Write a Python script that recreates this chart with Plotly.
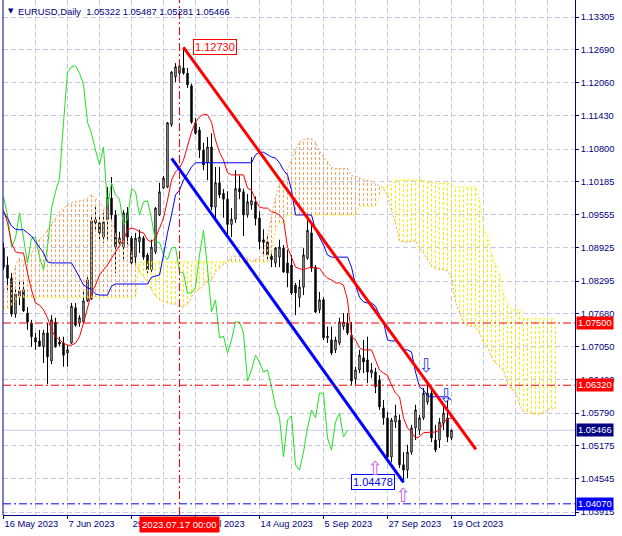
import plotly.graph_objects as go

# ---------------- data ----------------
open_ = [1.0892, 1.0860, 1.0835, 1.0767, 1.0801, 1.0813, 1.0769, 1.0750, 1.0722, 1.0716,
         1.0705, 1.0731, 1.0678, 1.0752, 1.0714, 1.0712, 1.0693, 1.0712, 1.0779, 1.0750,
         1.0752, 1.0792, 1.0796, 1.0946, 1.0940, 1.0913, 1.0946, 1.0987, 1.0955, 1.0902,
         1.0894, 1.0959, 1.0911, 1.0875, 1.0904, 1.0911, 1.0879, 1.0851, 1.0885, 1.0955,
         1.1006, 1.1008, 1.1126, 1.1217, 1.1224, 1.1234, 1.1224, 1.1200, 1.1130, 1.1116,
         1.1078, 1.1054, 1.1084, 1.0970, 1.1016, 1.0996, 1.0985, 1.0937, 1.0947, 1.1005,
         1.0999, 1.0955, 1.0974, 1.0980, 1.0949, 1.0908, 1.0904, 1.0877, 1.0864, 1.0875,
         1.0892, 1.0864, 1.0860, 1.0822, 1.0798, 1.0818, 1.0873, 1.0921, 1.0856, 1.0775,
         1.0794, 1.0722, 1.0718, 1.0699, 1.0712, 1.0743, 1.0750, 1.0727, 1.0644, 1.0661,
         1.0684, 1.0680, 1.0655, 1.0657, 1.0642, 1.0589, 1.0570, 1.0496, 1.0562, 1.0566,
         1.0481, 1.0471, 1.0505, 1.0551, 1.0547, 1.0570, 1.0600, 1.0617, 1.0528, 1.0528,
         1.0560, 1.0570, 1.05322]
high = [1.0902, 1.0876, 1.0845, 1.0819, 1.0830, 1.0828, 1.0780, 1.0756, 1.0731, 1.0737,
        1.0737, 1.0750, 1.0765, 1.0760, 1.0724, 1.0724, 1.0708, 1.0788, 1.0788, 1.0765,
        1.0813, 1.0837, 1.0951, 1.0970, 1.0951, 1.0959, 1.1008, 1.1027, 1.0964, 1.0923,
        1.0964, 1.0970, 1.0915, 1.0921, 1.0927, 1.0915, 1.0883, 1.0908, 1.0970, 1.1016,
        1.1029, 1.1131, 1.1228, 1.1243, 1.1245, 1.12730, 1.1234, 1.1204, 1.1139, 1.1122,
        1.1092, 1.1103, 1.1110, 1.1046, 1.1046, 1.1004, 1.1000, 1.0968, 1.1040, 1.1030,
        1.1005, 1.0995, 1.1065, 1.0990, 1.0962, 1.0928, 1.0915, 1.0885, 1.0894, 1.0908,
        1.0898, 1.0889, 1.0879, 1.0826, 1.0832, 1.0892, 1.0945, 1.0940, 1.0860, 1.0809,
        1.0799, 1.0743, 1.0743, 1.0724, 1.0760, 1.0769, 1.0769, 1.0752, 1.0667, 1.0699,
        1.0718, 1.0724, 1.0674, 1.0665, 1.0651, 1.0604, 1.0581, 1.0570, 1.0595, 1.0576,
        1.0505, 1.0519, 1.0557, 1.0595, 1.0576, 1.0627, 1.0636, 1.0629, 1.0557, 1.0570,
        1.0595, 1.0604, 1.05487]
low = [1.0851, 1.0813, 1.0762, 1.0760, 1.0784, 1.0771, 1.0737, 1.0705, 1.0699, 1.0705,
       1.0674, 1.0634, 1.0672, 1.0703, 1.0706, 1.0667, 1.0667, 1.0710, 1.0743, 1.0743,
       1.0750, 1.0790, 1.0794, 1.0925, 1.0908, 1.0902, 1.0908, 1.0946, 1.0845, 1.0894,
       1.0870, 1.0894, 1.0856, 1.0856, 1.0883, 1.0870, 1.0845, 1.0847, 1.0881, 1.0953,
       1.1004, 1.1006, 1.1122, 1.1207, 1.1215, 1.1221, 1.1196, 1.1128, 1.1107, 1.1063,
       1.1040, 1.1021, 1.0964, 1.0946, 1.0987, 1.0950, 1.0913, 1.0913, 1.0940, 1.0985,
       1.0915, 1.0950, 1.0965, 1.0935, 1.0890, 1.0877, 1.0870, 1.0856, 1.0856, 1.0856,
       1.0845, 1.0818, 1.0803, 1.0765, 1.0780, 1.0803, 1.0870, 1.0847, 1.0769, 1.0769,
       1.0718, 1.0712, 1.0689, 1.0693, 1.0708, 1.0737, 1.0727, 1.0632, 1.0633, 1.0655,
       1.0655, 1.0636, 1.0646, 1.0617, 1.0585, 1.0557, 1.0486, 1.0486, 1.0551, 1.0475,
       1.04478, 1.0456, 1.0500, 1.0528, 1.0538, 1.0566, 1.0595, 1.0524, 1.0505, 1.0513,
       1.0547, 1.0524, 1.05281]
close = [1.0856, 1.0835, 1.0767, 1.0805, 1.0811, 1.0773, 1.0752, 1.0724, 1.0714, 1.0706,
         1.0731, 1.0686, 1.0756, 1.0705, 1.0710, 1.0689, 1.0699, 1.0782, 1.0746, 1.0760,
         1.0792, 1.0832, 1.0944, 1.0940, 1.0921, 1.0942, 1.0989, 1.0955, 1.0894, 1.0911,
         1.0959, 1.0913, 1.0864, 1.0911, 1.0913, 1.0875, 1.0851, 1.0894, 1.0968, 1.0999,
         1.1025, 1.1130, 1.1226, 1.1236, 1.1238, 1.1224, 1.1202, 1.1131, 1.1110, 1.1078,
         1.1050, 1.1084, 1.0970, 1.1016, 1.0993, 1.0985, 1.0937, 1.0947, 1.1005, 1.0999,
         1.0955, 1.0980, 1.0982, 1.0948, 1.0904, 1.0903, 1.0879, 1.0870, 1.0892, 1.0894,
         1.0847, 1.0845, 1.0807, 1.0807, 1.0818, 1.0879, 1.0926, 1.0854, 1.0771, 1.0794,
         1.0722, 1.0725, 1.0693, 1.0718, 1.0752, 1.0752, 1.0731, 1.0640, 1.0661, 1.0689,
         1.0676, 1.0657, 1.0661, 1.0629, 1.0591, 1.0570, 1.0496, 1.0566, 1.0574, 1.0481,
         1.0471, 1.0505, 1.0551, 1.0585, 1.0570, 1.0617, 1.0617, 1.0532, 1.0509, 1.0562,
         1.0579, 1.0534, 1.05466]
bars = list(range(len(close)))

tenkan = [1.0964, 1.0940, 1.0902, 1.0885, 1.0883, 1.0883, 1.0845, 1.0813, 1.0788, 1.0784,
          1.0775, 1.0760, 1.0737, 1.0724, 1.0718, 1.0712, 1.0708, 1.0708, 1.0712, 1.0724,
          1.0750, 1.0780, 1.0807, 1.0822, 1.0841, 1.0851, 1.0860, 1.0873, 1.0885, 1.0898,
          1.0908, 1.0927, 1.0930, 1.0928, 1.0923, 1.0921, 1.0908, 1.0904, 1.0911, 1.0930,
          1.0949, 1.0983, 1.1021, 1.1037, 1.1044, 1.1059, 1.1084, 1.1112, 1.1131, 1.1141,
          1.1146, 1.1145, 1.1131, 1.1097, 1.1074, 1.1059, 1.1035, 1.1031, 1.1031, 1.1031,
          1.1031, 1.1006, 1.1002, 1.0983, 1.0970, 1.0968, 1.0968, 1.0961, 1.0959, 1.0955,
          1.0946, 1.0894, 1.0875, 1.0856, 1.0853, 1.0851, 1.0854, 1.0856, 1.0854, 1.0854,
          1.0843, 1.0835, 1.0832, 1.0826, 1.0826, 1.0822, 1.0794, 1.0724, 1.0718, 1.0703,
          1.0699, 1.0699, 1.0699, 1.0680, 1.0661, 1.0655, 1.0651, 1.0632, 1.0617, 1.0610,
          1.0570, 1.0551, 1.0543, 1.0532, 1.0534, 1.0542, 1.0543, 1.0543, 1.0543, 1.0547,
          1.0562, 1.0568, 1.0570]
kijun = [1.0961, 1.0949, 1.0934, 1.0928, 1.0927, 1.0927, 1.0921, 1.0915, 1.0904, 1.0894,
         1.0883, 1.0866, 1.0864, 1.0864, 1.0864, 1.0864, 1.0864, 1.0864, 1.0851, 1.0835,
         1.0822, 1.0818, 1.0813, 1.0805, 1.0803, 1.0803, 1.0803, 1.0820, 1.0824, 1.0824,
         1.0824, 1.0824, 1.0824, 1.0824, 1.0824, 1.0824, 1.0824, 1.0837, 1.0839, 1.0841,
         1.0879, 1.0921, 1.0955, 1.0993, 1.1002, 1.1021, 1.1033, 1.1046, 1.1054, 1.1054,
         1.1054, 1.1054, 1.1054, 1.1054, 1.1054, 1.1054, 1.1054, 1.1054, 1.1054, 1.1054,
         1.1054, 1.1054, 1.1054, 1.1069, 1.1074, 1.1074, 1.1069, 1.1065, 1.1063, 1.1054,
         1.1040, 1.1031, 1.1002, 1.0955, 1.0955, 1.0955, 1.0955, 1.0955, 1.0927, 1.0913,
         1.0898, 1.0879, 1.0875, 1.0875, 1.0875, 1.0875, 1.0875, 1.0856, 1.0822, 1.0799,
         1.0790, 1.0788, 1.0788, 1.0782, 1.0765, 1.0752, 1.0718, 1.0716, 1.0716, 1.0710,
         1.0699, 1.0699, 1.0695, 1.0657, 1.0629, 1.0623, 1.0612, 1.0610, 1.0610, 1.0610,
         1.0610, 1.0610, 1.0604]
span_a = [1.0813, 1.0822, 1.0824, 1.0860, 1.0873, 1.0866, 1.0873, 1.0881, 1.0898, 1.0909,
          1.0915, 1.0927, 1.0938, 1.0949, 1.0961, 1.0968, 1.0974, 1.0978, 1.0980, 1.0982,
          1.0983, 1.0987, 1.0993, 1.0987, 1.0980, 1.0970,
          1.0963, 1.0945, 1.0918, 1.0907, 1.0905, 1.0905, 1.0883, 1.0864, 1.0846, 1.0839,
          1.0829, 1.0813, 1.0801, 1.0794, 1.0791, 1.0788, 1.0786, 1.0786, 1.0782, 1.0780,
          1.0786, 1.0799, 1.0810, 1.0814, 1.0822, 1.0827, 1.0832, 1.0847, 1.0855, 1.0861,
          1.0866, 1.0876, 1.0877, 1.0876, 1.0874, 1.0873, 1.0866, 1.0871, 1.0875, 1.0886,
          1.0914, 1.0952, 1.0988, 1.1015, 1.1023, 1.1040, 1.1059, 1.1079, 1.1093, 1.1098,
          1.1100, 1.1100, 1.1093, 1.1076, 1.1064, 1.1057, 1.1045, 1.1043, 1.1043, 1.1043,
          1.1043, 1.1030, 1.1028, 1.1026, 1.1022, 1.1021, 1.1019, 1.1013, 1.1011, 1.1005,
          1.0993, 1.0963, 1.0939, 1.0906, 1.0904, 1.0903, 1.0905, 1.0906, 1.0891, 1.0884,
          1.0871, 1.0857, 1.0854, 1.0851, 1.0851, 1.0849, 1.0835, 1.0790, 1.0770, 1.0751,
          1.0745, 1.0744, 1.0744, 1.0731, 1.0713, 1.0704, 1.0685, 1.0674, 1.0667, 1.0660,
          1.0635, 1.0625, 1.0619, 1.0595, 1.0582, 1.0583, 1.0578, 1.0577, 1.0577, 1.0579,
          1.0586, 1.0589, 1.0587]
span_b = [1.0778, 1.0778, 1.0784, 1.0794,
          1.0799, 1.0799, 1.0799, 1.0799, 1.0799, 1.0799, 1.0799, 1.0799, 1.0799, 1.0799,
          1.0799, 1.0799, 1.0799, 1.0799, 1.0799, 1.0799, 1.0799, 1.0799, 1.0799, 1.0799,
          1.0799, 1.0799, 1.0799, 1.0799, 1.0799, 1.0799, 1.0799, 1.0799, 1.0799, 1.0799,
          1.0866, 1.0866, 1.0866, 1.0866, 1.0866, 1.0866, 1.0866, 1.0866, 1.0866, 1.0866,
          1.0866, 1.0866, 1.0866, 1.0866, 1.0866, 1.0866, 1.0866, 1.0866, 1.0866, 1.0866,
          1.0866, 1.0866, 1.0866, 1.0866, 1.0866, 1.0866, 1.0866, 1.0866, 1.0866, 1.0866,
          1.0866, 1.0866, 1.0866,
          1.0883, 1.0930, 1.0940, 1.0940,
          1.0955, 1.0955, 1.0955, 1.0955, 1.0955, 1.0955, 1.0955, 1.0955, 1.0955, 1.0955,
          1.0955, 1.0955, 1.0955, 1.0955, 1.0955, 1.0955, 1.0955, 1.0955,
          1.0972, 1.0972, 1.0972, 1.0972, 1.0972,
          1.0993, 1.1008, 1.1008, 1.1012, 1.1021,
          1.1021, 1.1021, 1.1021, 1.1021, 1.1021, 1.1021, 1.1021,
          1.1017, 1.1017, 1.1015, 1.1015, 1.1015, 1.1015, 1.1015,
          1.1008, 1.1008, 1.1008, 1.1008, 1.1008, 1.1008,
          1.0985, 1.0930, 1.0915, 1.0881, 1.0860, 1.0845, 1.0807, 1.0786,
          1.0775, 1.0775, 1.0775,
          1.0758, 1.0758, 1.0758, 1.0758, 1.0758, 1.0758, 1.0758, 1.0758, 1.0758]
cloud_bars = list(range(len(span_a)))
chikou_shift = 26

date_ticks = [0, 16, 32, 48, 64, 80, 96, 112]
date_labels = ["16 May 2023", "7 Jun 2023", "29 Jun 2023", "21 Jul 2023",
               "14 Aug 2023", "5 Sep 2023", "27 Sep 2023", "19 Oct 2023"]
date_minor = [8, 24, 40, 56, 72, 88, 104, 120, 128, 136]
price_ticks = [1.13305, 1.12690, 1.12060, 1.11430, 1.10800, 1.10185, 1.09555, 1.08925,
               1.08295, 1.07680, 1.07050, 1.06420, 1.05790, 1.05175, 1.04545, 1.03915]
price_labels = ["1.13305", "1.12690", "1.12060", "1.11430", "1.10800", "1.10185", "1.09555",
                "1.08925", "1.08295", "1.07680", "1.07050", "1.06420", "1.05790", "1.05175",
                "1.04545", "1.03915"]

red_levels = [1.07500, 1.06320]
blue_levels = [1.04070]
bid_price = 1.05466
header = "EURUSD,Daily  1.05322 1.05487 1.05281 1.05466"
trend_red_x = [45, 118.1]
trend_red_y = [1.12730, 1.05101]
trend_blue_x = [42.05, 100]
trend_blue_y = [1.10625, 1.04478]
cursor_bar = 44
cursor_label = "2023.07.17 00:00"
up_arrow_x = [92.9, 99.9]
up_arrow_y = [1.0475, 1.0424]
down_arrow_x = [105.6, 110.6]
down_arrow_y = [1.0670, 1.0614]
high_label = 1.12730
low_label = 1.04478

# ---------------- styling ----------------
NAVY = "#000080"
GRID = "#C8C8E4"
FONT = "Liberation Sans, Arial, sans-serif"
ORANGE = "#F4A460"
YELLOW = "#F2F200"

fig = go.Figure()

# cloud hatch
ox, oy, yx, yy = [], [], [], []
for j, a, b in zip(cloud_bars, span_a, span_b):
    if a >= b:
        ox += [j, j, None]; oy += [b, a, None]
    else:
        yx += [j, j, None]; yy += [a, b, None]
fig.add_trace(go.Scatter(x=ox, y=oy, mode="lines", line=dict(color=ORANGE, width=1, dash="3px,2px"),
                         hoverinfo="skip", showlegend=False))
fig.add_trace(go.Scatter(x=yx, y=yy, mode="lines", line=dict(color=YELLOW, width=1, dash="3px,2px"),
                         hoverinfo="skip", showlegend=False))
fig.add_trace(go.Scatter(x=cloud_bars, y=span_a, mode="lines", line=dict(color=ORANGE, width=1, dash="2px,2px"),
                         hoverinfo="skip", showlegend=False))
fig.add_trace(go.Scatter(x=cloud_bars, y=span_b, mode="lines", line=dict(color=YELLOW, width=1, dash="2px,2px"),
                         hoverinfo="skip", showlegend=False))

# chikou span
fig.add_trace(go.Scatter(x=[b - chikou_shift for b in bars[chikou_shift:]], y=close[chikou_shift:],
                         mode="lines", line=dict(color="#22E022", width=1), hoverinfo="skip", showlegend=False))

# candles
fig.add_trace(go.Candlestick(x=bars, open=open_, high=high, low=low, close=close,
                             increasing=dict(line=dict(color="black", width=1), fillcolor="white"),
                             decreasing=dict(line=dict(color="black", width=1), fillcolor="black"),
                             whiskerwidth=0, hoverinfo="skip", showlegend=False))

# tenkan / kijun
fig.add_trace(go.Scatter(x=bars, y=tenkan, mode="lines", line=dict(color="#FF0000", width=1),
                         hoverinfo="skip", showlegend=False))
fig.add_trace(go.Scatter(x=bars, y=kijun, mode="lines", line=dict(color="#0000FF", width=1),
                         hoverinfo="skip", showlegend=False))

# trend lines
fig.add_trace(go.Scatter(x=trend_red_x, y=trend_red_y, mode="lines", line=dict(color="#FF0000", width=3),
                         hoverinfo="skip", showlegend=False))
fig.add_trace(go.Scatter(x=trend_blue_x, y=trend_blue_y, mode="lines", line=dict(color="#0000FF", width=3),
                         hoverinfo="skip", showlegend=False))

shapes = []
shapes.append(dict(type="line", xref="paper", x0=0, x1=1, yref="y", y0=bid_price, y1=bid_price,
                   line=dict(color="#C8C8E8", width=1), layer="below"))
for lv in red_levels:
    shapes.append(dict(type="line", xref="paper", x0=0, x1=1, yref="y", y0=lv, y1=lv,
                       line=dict(color="#FF0000", width=1, dash="8px,3px,2px,3px")))
for lv in blue_levels:
    shapes.append(dict(type="line", xref="paper", x0=0, x1=1, yref="y", y0=lv, y1=lv,
                       line=dict(color="#0000FF", width=1, dash="8px,3px,2px,3px")))
shapes.append(dict(type="line", xref="x", x0=cursor_bar, x1=cursor_bar, yref="paper", y0=0, y1=1,
                   line=dict(color="#FF0000", width=1, dash="8px,3px,2px,3px")))
shapes.append(dict(type="line", xref="paper", x0=0, x1=0, yref="paper", y0=0, y1=1,
                   line=dict(color=NAVY, width=1)))

ann = []
ann.append(dict(xref="paper", yref="paper", x=0, y=1, xanchor="left", yanchor="middle",
                xshift=3, yshift=-11, text="▼", showarrow=False,
                font=dict(family="DejaVu Sans", size=7, color=NAVY)))
ann.append(dict(xref="paper", yref="paper", x=0, y=1, xanchor="left", yanchor="middle",
                xshift=13, yshift=-11, text=header, showarrow=False,
                font=dict(family=FONT, size=9.4, color=NAVY)))
for lv in red_levels:
    ann.append(dict(xref="paper", yref="y", x=1, y=lv, xanchor="left", yanchor="middle", xshift=1,
                    text=f"{lv:.5f}", showarrow=False, bgcolor="#FF0000", borderpad=1,
                    font=dict(family=FONT, size=9.3, color="white")))
for lv in blue_levels:
    ann.append(dict(xref="paper", yref="y", x=1, y=lv, xanchor="left", yanchor="middle", xshift=1,
                    text=f"{lv:.5f}", showarrow=False, bgcolor="#0000FF", borderpad=1,
                    font=dict(family=FONT, size=9.3, color="white")))
ann.append(dict(xref="paper", yref="y", x=1, y=bid_price, xanchor="left", yanchor="middle", xshift=1,
                text=f"{bid_price:.5f}", showarrow=False, bgcolor=NAVY, borderpad=1,
                font=dict(family=FONT, size=9.3, color="white")))
ann.append(dict(xref="x", yref="paper", x=cursor_bar, y=0, xanchor="center", yanchor="top", yshift=-1,
                text=cursor_label, showarrow=False, bgcolor="#FF0000", borderpad=2,
                font=dict(family=FONT, size=9.6, color="white")))
ann.append(dict(xref="x", yref="y", x=45, y=high_label, xanchor="left", yanchor="middle", xshift=9,
                text=f"{high_label:.5f}", showarrow=False, bgcolor="white", bordercolor="#FF0000",
                borderwidth=1, borderpad=1, font=dict(family=FONT, size=11, color="#FF0000")))
ann.append(dict(xref="x", yref="y", x=100, y=low_label, xanchor="right", yanchor="middle", xshift=-9,
                text=f"{low_label:.5f}", showarrow=False, bgcolor="white", bordercolor="#0000FF",
                borderwidth=1, borderpad=1, font=dict(family=FONT, size=11, color="#0000FF")))
for x, y in zip(up_arrow_x, up_arrow_y):
    ann.append(dict(xref="x", yref="y", x=x, y=y, text="⇧", showarrow=False,
                    font=dict(family="DejaVu Sans", size=19, color="#C864E6")))
for x, y in zip(down_arrow_x, down_arrow_y):
    ann.append(dict(xref="x", yref="y", x=x, y=y, text="⇩", showarrow=False,
                    font=dict(family="DejaVu Sans", size=19, color="#3C50E6")))

fig.update_layout(
    width=622, height=536,
    margin=dict(l=3, r=47, t=0, b=21, autoexpand=False),
    paper_bgcolor="white", plot_bgcolor="white",
    showlegend=False, hovermode=False,
    boxgap=0.5,
    shapes=shapes, annotations=ann,
    font=dict(family=FONT, size=9.3, color=NAVY),
    xaxis=dict(range=[-0.125, 142.875], tickmode="array", tickvals=date_ticks, ticktext=date_labels,
               ticks="outside", ticklen=3, tickcolor=NAVY, ticklabelposition="outside right",
               showgrid=True, gridcolor=GRID, griddash="5px,3px", gridwidth=1,
               minor=dict(tickmode="array", tickvals=date_minor, showgrid=True, gridcolor=GRID,
                          griddash="5px,3px", ticks=""),
               showline=True, linecolor=NAVY, linewidth=1, zeroline=False,
               rangeslider=dict(visible=False), fixedrange=True,
               tickfont=dict(family=FONT, size=9.3, color=NAVY)),
    yaxis=dict(range=[1.03858, 1.13628], side="right", tickmode="array", tickvals=price_ticks,
               ticktext=price_labels, ticks="outside", ticklen=3, tickcolor=NAVY,
               showgrid=True, gridcolor=GRID, griddash="5px,3px", gridwidth=1,
               showline=True, linecolor=NAVY, linewidth=1, zeroline=False, fixedrange=True,
               tickfont=dict(family=FONT, size=9.3, color=NAVY)),
)

fig.write_html("out.html", config={"displayModeBar": False, "staticPlot": True},
               post_script="document.body.style.margin='0px';document.body.style.overflow='hidden';")
